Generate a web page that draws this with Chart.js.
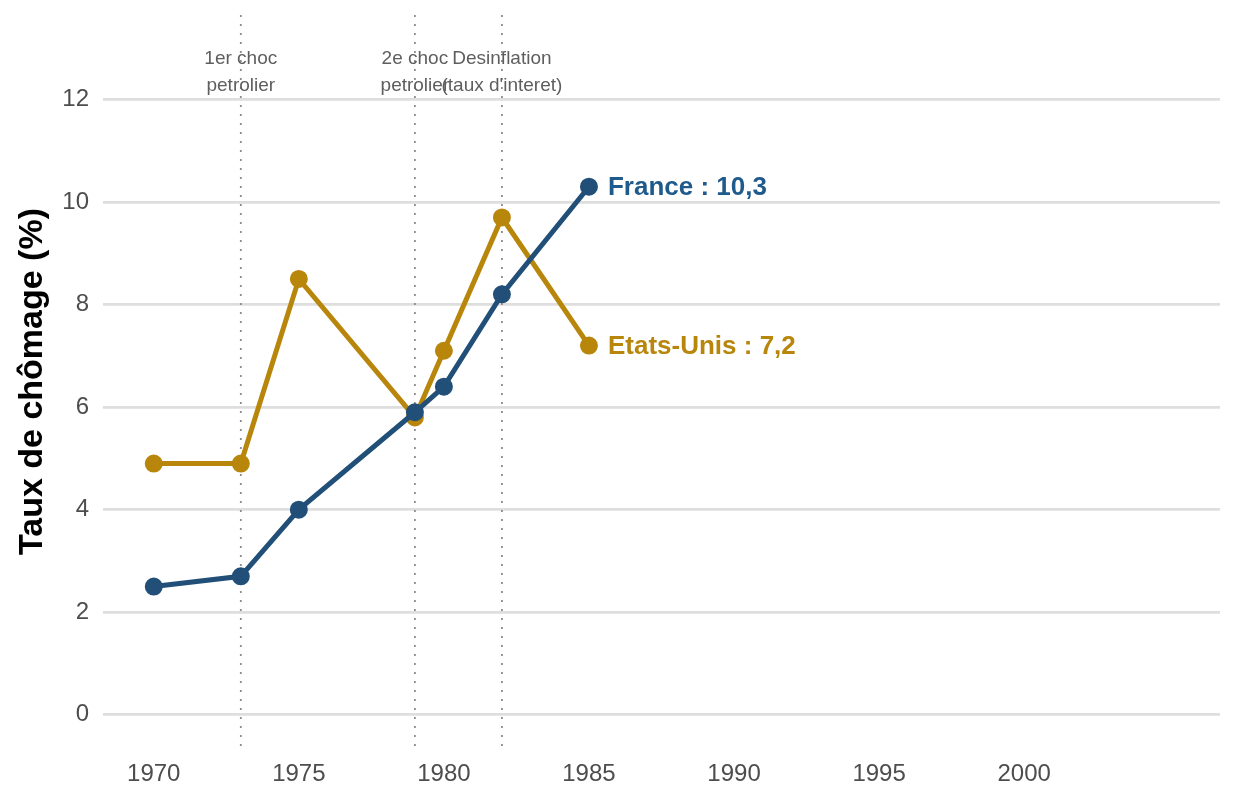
<!DOCTYPE html>
<html>
<head>
<meta charset="utf-8">
<script src="https://cdn.jsdelivr.net/npm/chart.js@4.4.1/dist/chart.umd.min.js"></script>
<style>
  html, body { margin: 0; padding: 0; background: #ffffff; }
  #wrap { width: 1248px; height: 806px; }
</style>
</head>
<body>
<div id="wrap"><canvas id="chart" width="1248" height="806"></canvas></div>
<script>
// data
const years = [1970, 1973, 1975, 1979, 1980, 1982, 1985];
const france = [2.5, 2.7, 4.0, 5.9, 6.4, 8.2, 10.3];
const usa = [4.9, 4.9, 8.5, 5.8, 7.1, 9.7, 7.2];
const xTicks = [1970, 1975, 1980, 1985, 1990, 1995, 2000];
const yTicks = [0, 2, 4, 6, 8, 10, 12];
const eventYears = [1973, 1979, 1982];
const eventLabels = [["1er choc", "petrolier"], ["2e choc", "petrolier"], ["Desinflation", "(taux d'interet)"]];

const blue = "#214f78";
const gold = "#b8860b";
const font = "'Liberation Sans', Arial, sans-serif";

function pairs(ys) {
    return years.map((y, i) => ({ x: y, y: ys[i] }));
}

// dotted event lines + annotation text, end labels
const extras = {
    id: "extras",
    beforeDatasetsDraw(c) {
        const ctx = c.ctx;
        const xs = c.scales.x;
        ctx.save();
        ctx.strokeStyle = "#8c8c8c";
        ctx.lineWidth = 1.8;
        ctx.setLineDash([2, 7]);
        eventYears.forEach(yr => {
            const px = xs.getPixelForValue(yr);
            ctx.beginPath();
            ctx.moveTo(px, c.chartArea.top);
            ctx.lineTo(px, c.chartArea.bottom);
            ctx.stroke();
        });
        ctx.restore();
    },
    afterDatasetsDraw(c) {
        const ctx = c.ctx;
        const xs = c.scales.x, ys = c.scales.y;
        ctx.save();
        ctx.font = "19px " + font;
        ctx.fillStyle = "#5e5e5e";
        ctx.textAlign = "center";
        ctx.textBaseline = "middle";
        eventYears.forEach((yr, i) => {
            const px = xs.getPixelForValue(yr);
            ctx.fillText(eventLabels[i][0], px, ys.getPixelForValue(12.8));
            ctx.fillText(eventLabels[i][1], px, ys.getPixelForValue(12.27));
        });
        ctx.font = "bold 26px " + font;
        ctx.textAlign = "left";
        const last = years.length - 1;
        ctx.fillStyle = "#1f5a8c";
        ctx.fillText("France : 10,3", xs.getPixelForValue(years[last]) + 19, ys.getPixelForValue(france[last]) + 1);
        ctx.fillStyle = gold;
        ctx.fillText("Etats-Unis : 7,2", xs.getPixelForValue(years[last]) + 19, ys.getPixelForValue(usa[last]) + 1);
        ctx.restore();
    }
};

new Chart(document.getElementById("chart"), {
    type: "line",
    data: {
        datasets: [
            {
                label: "France",
                data: pairs(france),
                borderColor: blue,
                backgroundColor: blue,
                borderWidth: 5,
                pointRadius: 6.5,
                pointHoverRadius: 6.5,
                tension: 0
            },
            {
                label: "Etats-Unis",
                data: pairs(usa),
                borderColor: gold,
                backgroundColor: gold,
                borderWidth: 5,
                pointRadius: 6.5,
                pointHoverRadius: 6.5,
                tension: 0
            }
        ]
    },
    options: {
        responsive: false,
        animation: false,
        layout: { padding: { top: 15, right: 28, left: 12, bottom: 0 } },
        plugins: {
            legend: { display: false },
            tooltip: { enabled: false }
        },
        scales: {
            x: {
                type: "linear",
                min: 1968.25,
                max: 2006.75,
                afterBuildTicks: s => { s.ticks = xTicks.map(v => ({ value: v })); },
                afterFit: s => { s.height = 58; s.paddingLeft = 0; s.paddingRight = 0; },
                grid: { display: false },
                border: { display: false },
                ticks: {
                    color: "#4d4d4d",
                    font: { size: 24, family: font },
                    padding: 4,
                    callback: v => String(v)
                }
            },
            y: {
                min: -0.65,
                max: 13.65,
                afterBuildTicks: s => { s.ticks = yTicks.map(v => ({ value: v })); },
                afterFit: s => { s.width = 91; s.paddingTop = 0; s.paddingBottom = 0; },
                grid: { color: "#dedede", lineWidth: 2.8, drawTicks: false },
                border: { display: false },
                title: {
                    display: true,
                    text: "Taux de chômage (%)",
                    color: "#000000",
                    font: { size: 34, weight: "bold", family: font },
                    padding: { top: 0, bottom: 4 }
                },
                ticks: {
                    color: "#4d4d4d",
                    font: { size: 24, family: font },
                    padding: 14
                }
            }
        }
    },
    plugins: [extras]
});
</script>
</body>
</html>
